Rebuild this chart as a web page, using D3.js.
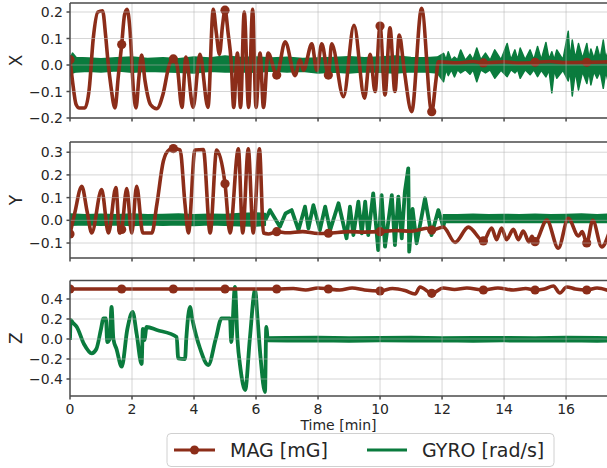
<!DOCTYPE html>
<html>
<head>
<meta charset="utf-8">
<script src="https://cdn.jsdelivr.net/npm/d3@7"></script>
<style>
  html, body { margin: 0; padding: 0; background: #fff; }
  svg { display: block; font-family: "DejaVu Sans", sans-serif; }
</style>
</head>
<body>
<svg id="chart" width="607" height="468"></svg>
<script>
(function(){
  'use strict';

  // tick values
  const timeTicks = [0, 2, 4, 6, 8, 10, 12, 14, 16];
  const ticksX = [-0.2, -0.1, 0.0, 0.1, 0.2];
  const ticksY = [-0.1, 0.0, 0.1, 0.2, 0.3];
  const ticksZ = [-0.4, -0.2, 0.0, 0.2, 0.4];

  // MAG markers sit on these sample times
  const markTimes = [0, 1.667, 3.333, 5.0, 6.667, 8.333, 10.0, 11.667, 13.333, 15.0, 16.667];

  // MAG [mG] per axis: [time (min), value]
  const magX = [
    [0.000,0.020],[0.08,-0.060],[0.20,-0.150],[0.30,-0.162],[0.48,-0.162],[0.62,-0.090],[0.75,0.100],
    [0.90,0.200],[1.05,0.205],[1.15,0.110],[1.22,0.020],[1.32,-0.080],[1.45,-0.162],[1.56,-0.040],
    [1.667,0.077],[1.76,0.190],[1.84,0.210],[1.93,0.140],[2.05,-0.100],[2.13,-0.162],[2.22,-0.050],
    [2.31,0.038],[2.42,-0.060],[2.60,-0.150],[2.80,-0.165],[3.00,-0.110],[3.20,0.000],[3.333,0.023],
    [3.45,0.000],[3.61,-0.160],[3.74,0.030],[3.97,-0.160],[4.19,0.040],[4.45,-0.160],[4.62,0.210],
    [4.72,0.120],[4.82,0.040],[4.92,0.150],[5.000,0.207],[5.10,0.120],[5.20,0.010],[5.28,-0.160],
    [5.40,0.045],[5.50,-0.160],[5.62,0.200],[5.76,-0.160],[5.89,0.210],[6.00,-0.160],[6.13,0.045],
    [6.24,-0.160],[6.39,0.045],[6.667,-0.038],[6.94,0.088],[7.26,-0.040],[7.42,0.020],[7.53,-0.020],
    [7.80,0.080],[7.96,-0.020],[8.12,0.080],[8.333,-0.038],[8.44,0.080],[8.82,-0.120],[9.16,0.150],
    [9.50,-0.125],[9.68,0.040],[9.84,-0.100],[10.000,0.147],[10.16,-0.113],[10.32,0.140],[10.48,-0.100],
    [10.62,0.113],[10.78,-0.020],[11.02,-0.176],[11.34,0.214],[11.667,-0.176],[11.80,-0.060],[11.88,0.012],
    [12.50,0.008],[13.00,0.013],[13.333,0.008],[14.00,0.012],[14.50,0.007],[15.000,0.010],[15.50,0.013],
    [16.00,0.009],[16.667,0.010],[17.40,0.012]
  ];
  const magY = [
    [0.000,-0.060],[0.15,0.030],[0.38,0.150],[0.55,0.040],[0.70,-0.056],[1.02,0.135],[1.24,-0.056],
    [1.48,0.144],[1.60,-0.056],[1.667,-0.040],[1.83,0.140],[1.99,-0.056],[2.15,0.150],[2.35,-0.056],
    [2.64,-0.056],[2.80,0.069],[3.01,0.260],[3.20,0.311],[3.333,0.316],[3.55,0.310],[3.71,0.070],
    [3.82,-0.056],[4.03,0.310],[4.30,0.312],[4.52,-0.056],[4.73,0.310],[5.000,0.161],[5.16,-0.056],
    [5.43,0.315],[5.57,-0.056],[5.75,0.315],[5.91,-0.056],[6.11,0.315],[6.24,-0.056],[6.40,-0.060],
    [6.667,-0.050],[7.00,-0.055],[7.50,-0.050],[8.00,-0.058],[8.333,-0.057],[9.00,-0.050],[9.50,-0.052],
    [10.000,-0.050],[10.50,-0.045],[11.00,-0.048],[11.30,-0.040],[11.50,-0.035],[11.667,-0.043],
    [12.04,-0.030],[12.42,-0.097],[12.85,-0.030],[13.333,-0.091],[13.60,-0.034],[13.76,-0.085],
    [13.92,-0.034],[14.08,-0.085],[14.30,-0.040],[14.46,-0.085],[14.62,-0.047],[14.80,-0.095],
    [14.90,-0.070],[15.000,-0.094],[15.38,0.001],[15.75,-0.123],[16.07,0.009],[16.40,-0.069],
    [16.52,-0.050],[16.667,-0.100],[16.86,0.000],[17.15,-0.117],[17.40,-0.050]
  ];
  const magZ = [
    [0.000,0.500],[1.667,0.500],[3.333,0.500],[5.000,0.500],[6.667,0.500],[7.20,0.505],[7.60,0.490],
    [8.00,0.510],[8.333,0.500],[8.70,0.490],[9.10,0.510],[9.50,0.490],[10.000,0.480],[10.40,0.505],
    [10.80,0.485],[11.13,0.450],[11.29,0.520],[11.667,0.457],[12.04,0.510],[12.40,0.495],[12.80,0.510],
    [13.333,0.490],[13.80,0.510],[14.30,0.490],[14.70,0.505],[15.000,0.490],[15.30,0.500],[15.59,0.530],
    [15.80,0.460],[16.02,0.520],[16.30,0.500],[16.667,0.490],[17.00,0.510],[17.40,0.480]
  ];

  // GYRO [rad/s] noise bands: [time, low, high]
  const gyroXBand = [
    [0.00,-0.020,0.020],[0.08,-0.030,0.045],[0.20,-0.026,0.028],[0.60,-0.024,0.026],[1.00,-0.026,0.024],
    [1.50,-0.022,0.027],[2.00,-0.027,0.030],[2.50,-0.024,0.025],[3.00,-0.025,0.027],[3.50,-0.027,0.024],
    [4.00,-0.030,0.030],[4.50,-0.024,0.026],[5.00,-0.026,0.034],[5.50,-0.025,0.028],[6.00,-0.027,0.030],
    [6.50,-0.023,0.026],[7.00,-0.026,0.029],[7.50,-0.024,0.025],[8.00,-0.030,0.026],[8.50,-0.026,0.028],
    [9.00,-0.030,0.031],[9.50,-0.025,0.027],[10.00,-0.027,0.030],[10.50,-0.030,0.034],[11.00,-0.025,0.028],
    [11.50,-0.026,0.027],[11.85,-0.030,0.030],
    [12.05,-0.063,0.044],[12.13,-0.018,0.020],[12.20,-0.040,0.050],[12.30,-0.018,0.018],[12.40,-0.045,0.030],
    [12.50,-0.018,0.020],[12.60,-0.030,0.057],[12.75,-0.018,0.018],[12.90,-0.035,0.040],[13.00,-0.018,0.020],
    [13.12,-0.063,0.064],[13.25,-0.018,0.020],[13.40,-0.030,0.045],[13.55,-0.018,0.018],[13.70,-0.050,0.057],
    [13.90,-0.020,0.020],[14.10,-0.044,0.081],[14.22,-0.018,0.020],[14.35,-0.030,0.057],[14.44,-0.018,0.020],
    [14.52,-0.050,0.064],[14.68,-0.018,0.020],[14.84,-0.037,0.057],[14.96,-0.018,0.020],[15.08,-0.044,0.070],
    [15.20,-0.020,0.020],[15.35,-0.045,0.085],[15.45,-0.020,0.022],[15.54,-0.105,0.050],[15.62,-0.020,0.020],
    [15.70,-0.050,0.057],[15.90,-0.020,0.020],[16.07,-0.060,0.127],[16.13,-0.025,0.025],[16.20,-0.117,0.094],
    [16.30,-0.025,0.025],[16.40,-0.094,0.081],[16.53,-0.025,0.025],[16.67,-0.070,0.081],[16.74,-0.025,0.025],
    [16.80,-0.075,0.060],[16.90,-0.025,0.025],[17.00,-0.050,0.070],[17.10,-0.025,0.025],[17.20,-0.088,0.094],
    [17.28,-0.025,0.025],[17.35,-0.060,0.050]
  ];
  const gyroYBandA = [
    [0.00,-0.022,0.028],[0.50,-0.020,0.025],[1.00,-0.022,0.027],[1.50,-0.020,0.024],[2.00,-0.023,0.028],
    [2.50,-0.020,0.025],[3.00,-0.022,0.026],[3.50,-0.020,0.028],[4.00,-0.023,0.025],[4.50,-0.020,0.027],
    [5.00,-0.022,0.026],[5.50,-0.024,0.030],[6.00,-0.025,0.032],[6.30,-0.022,0.030]
  ];
  const gyroYBandB = [
    [12.04,-0.010,0.025],[12.50,-0.008,0.024],[13.00,-0.010,0.027],[13.50,-0.008,0.024],[14.00,-0.010,0.026],
    [14.50,-0.009,0.024],[15.00,-0.010,0.027],[15.50,-0.008,0.025],[16.00,-0.010,0.026],[16.50,-0.009,0.028],
    [17.00,-0.010,0.025],[17.40,-0.009,0.027]
  ];
  const gyroZBand = [
    [6.37,-0.025,0.020],[7.00,-0.028,0.022],[8.00,-0.025,0.024],[9.00,-0.030,0.020],[10.00,-0.026,0.022],
    [11.00,-0.028,0.025],[12.00,-0.025,0.020],[13.00,-0.030,0.023],[14.00,-0.026,0.022],[15.00,-0.028,0.020],
    [16.00,-0.025,0.024],[17.00,-0.030,0.022],[17.40,-0.026,0.020]
  ];

  // GYRO swings drawn as a line: [time, value]
  const gyroYLine = [
    [6.30,0.000],[6.45,0.045],[6.77,-0.028],[6.95,0.030],[7.15,0.045],[7.37,-0.043],[7.58,0.060],
    [7.69,-0.035],[7.85,0.067],[8.06,-0.043],[8.23,0.060],[8.39,-0.043],[8.66,0.075],[8.92,-0.079],
    [9.03,0.060],[9.14,-0.065],[9.30,0.082],[9.41,-0.057],[9.52,0.082],[9.62,-0.065],[9.78,0.119],
    [9.94,-0.131],[10.05,0.111],[10.16,-0.116],[10.38,0.111],[10.48,-0.109],[10.59,0.104],[10.70,-0.079],
    [10.80,0.126],[10.91,0.229],[10.94,-0.138],[11.05,0.050],[11.18,-0.101],[11.45,0.097],[11.66,-0.065],
    [11.88,0.045],[12.04,-0.028],[12.10,0.008]
  ];
  const gyroZLine = [
    [0.00,-0.010],[0.02,0.190],[0.10,0.160],[0.22,0.120],[0.45,-0.050],[0.70,-0.143],[0.85,-0.100],
    [1.00,0.100],[1.08,0.207],[1.16,0.207],[1.20,-0.030],[1.28,0.000],[1.34,0.320],[1.40,0.000],
    [1.50,-0.100],[1.667,-0.277],[1.85,0.100],[2.02,0.270],[2.15,0.050],[2.31,-0.250],[2.35,0.100],
    [2.40,-0.010],[2.47,0.120],[2.80,0.090],[3.44,0.020],[3.49,-0.193],[3.71,-0.200],[3.75,0.000],
    [3.87,0.320],[3.95,0.190],[4.20,-0.100],[4.46,-0.260],[4.70,0.000],[4.89,0.207],[5.16,0.207],
    [5.20,-0.030],[5.32,0.520],[5.40,0.000],[5.50,-0.300],[5.65,-0.510],[5.80,0.000],[5.97,0.490],
    [6.05,0.200],[6.15,-0.200],[6.29,-0.530],[6.33,0.120],[6.37,0.000]
  ];

  const MAG_COLOR = '#8c2d19';
  const GYRO_COLOR = '#0a7b3d';
  const TEXT_COLOR = '#262626';
  const SPINE_COLOR = '#4a4a4a';

  const left = 70, right = 607;
  const x = d3.scaleLinear().domain([0, 17.32]).range([left, right]);

  const panels = [
    { name: 'X', top: 3,     bottom: 118, domain: [-0.2, 0.234],   ticks: ticksX,
      mag: magX, bands: [gyroXBand], lines: [] },
    { name: 'Y', top: 142,   bottom: 258, domain: [-0.166, 0.345], ticks: ticksY,
      mag: magY, bands: [gyroYBandA, gyroYBandB], lines: [gyroYLine] },
    { name: 'Z', top: 280.5, bottom: 396, domain: [-0.57, 0.585],  ticks: ticksZ,
      mag: magZ, bands: [gyroZBand], lines: [gyroZLine] }
  ];

  const svg = d3.select('#chart');
  const fmt = d3.format('.1f');

  panels.forEach(function(p, i) {
    const y = d3.scaleLinear().domain(p.domain).range([p.bottom, p.top]);
    const clipId = 'clip' + i;

    svg.append('clipPath').attr('id', clipId)
      .append('rect')
        .attr('x', left).attr('y', p.top)
        .attr('width', right - left).attr('height', p.bottom - p.top);

    const g = svg.append('g').attr('clip-path', 'url(#' + clipId + ')');

    // gyro noise bands
    const band = d3.area()
      .x(d => x(d[0]))
      .y0(d => y(d[1]))
      .y1(d => y(d[2]));
    p.bands.forEach(function(b) {
      g.append('path')
        .datum(b)
        .attr('fill', GYRO_COLOR)
        .attr('stroke', GYRO_COLOR)
        .attr('stroke-width', 1.5)
        .attr('stroke-linejoin', 'round')
        .attr('d', band);
    });

    // gyro swings
    const gline = d3.line()
      .x(d => x(d[0]))
      .y(d => y(d[1]))
      .curve(p.name === 'Z' ? d3.curveMonotoneX : d3.curveLinear);
    p.lines.forEach(function(l) {
      g.append('path')
        .datum(l)
        .attr('fill', 'none')
        .attr('stroke', GYRO_COLOR)
        .attr('stroke-width', 3.8)
        .attr('stroke-linejoin', 'round')
        .attr('d', gline);
    });

    // mag line
    const mline = d3.line()
      .x(d => x(d[0]))
      .y(d => y(d[1]))
      .curve(d3.curveMonotoneX);
    g.append('path')
      .datum(p.mag)
      .attr('fill', 'none')
      .attr('stroke', MAG_COLOR)
      .attr('stroke-width', 3.6)
      .attr('stroke-linejoin', 'round')
      .attr('d', mline);

    g.selectAll('circle.mark')
      .data(p.mag.filter(d => markTimes.includes(d[0])))
      .join('circle')
        .attr('class', 'mark')
        .attr('cx', d => x(d[0]))
        .attr('cy', d => y(d[1]))
        .attr('r', 4.6)
        .attr('fill', MAG_COLOR);

    // grid drawn over the data, semi transparent
    const grid = svg.append('g')
      .attr('stroke', '#b4b4b4')
      .attr('stroke-opacity', 0.55)
      .attr('stroke-width', 1);
    grid.selectAll('line.h')
      .data(p.ticks)
      .join('line')
        .attr('x1', left).attr('x2', right)
        .attr('y1', d => y(d)).attr('y2', d => y(d));
    grid.selectAll('line.v')
      .data(timeTicks.slice(1))
      .join('line')
        .attr('x1', d => x(d)).attr('x2', d => x(d))
        .attr('y1', p.top).attr('y2', p.bottom);

    // spines
    const sp = svg.append('g').attr('stroke', SPINE_COLOR).attr('stroke-width', 1.5);
    sp.append('line').attr('x1', left).attr('x2', left).attr('y1', p.top).attr('y2', p.bottom);
    sp.append('line').attr('x1', left).attr('x2', right).attr('y1', p.top).attr('y2', p.top);
    sp.append('line').attr('x1', left).attr('x2', right).attr('y1', p.bottom).attr('y2', p.bottom);

    // ticks
    sp.selectAll('line.yt')
      .data(p.ticks)
      .join('line')
        .attr('x1', left - 3.5).attr('x2', left)
        .attr('y1', d => y(d)).attr('y2', d => y(d));
    sp.selectAll('line.xt')
      .data(timeTicks)
      .join('line')
        .attr('x1', d => x(d)).attr('x2', d => x(d))
        .attr('y1', p.bottom).attr('y2', p.bottom + 3.5);

    svg.append('g')
      .selectAll('text')
      .data(p.ticks)
      .join('text')
        .attr('x', left - 7)
        .attr('y', d => y(d))
        .attr('dy', '0.36em')
        .attr('text-anchor', 'end')
        .attr('font-size', 14)
        .attr('fill', TEXT_COLOR)
        .text(d => fmt(d));

    svg.append('text')
      .attr('transform', 'translate(22,' + ((p.top + p.bottom) / 2) + ') rotate(-90)')
      .attr('text-anchor', 'middle')
      .attr('font-size', 17)
      .attr('fill', TEXT_COLOR)
      .text(p.name);

    if (i === panels.length - 1) {
      svg.append('g')
        .selectAll('text')
        .data(timeTicks)
        .join('text')
          .attr('x', d => x(d))
          .attr('y', 414)
          .attr('text-anchor', 'middle')
          .attr('font-size', 14)
          .attr('fill', TEXT_COLOR)
          .text(d => d);

      svg.append('text')
        .attr('x', (left + right) / 2)
        .attr('y', 429.5)
        .attr('text-anchor', 'middle')
        .attr('font-size', 14)
        .attr('fill', TEXT_COLOR)
        .text('Time [min]');
    }
  });

  // legend
  const lg = svg.append('g');
  lg.append('rect')
    .attr('x', 167).attr('y', 433.5)
    .attr('width', 387).attr('height', 33)
    .attr('rx', 4)
    .attr('fill', '#fff')
    .attr('stroke', '#d0d0d0')
    .attr('stroke-width', 1);
  lg.append('line')
    .attr('x1', 174).attr('x2', 215).attr('y1', 450).attr('y2', 450)
    .attr('stroke', MAG_COLOR).attr('stroke-width', 3);
  lg.append('circle')
    .attr('cx', 194.5).attr('cy', 450).attr('r', 4.5)
    .attr('fill', MAG_COLOR);
  lg.append('text')
    .attr('x', 230).attr('y', 457)
    .attr('font-size', 19).attr('fill', TEXT_COLOR)
    .text('MAG [mG]');
  lg.append('line')
    .attr('x1', 367).attr('x2', 407).attr('y1', 450).attr('y2', 450)
    .attr('stroke', GYRO_COLOR).attr('stroke-width', 3);
  lg.append('text')
    .attr('x', 422).attr('y', 457)
    .attr('font-size', 19).attr('fill', TEXT_COLOR)
    .text('GYRO [rad/s]');
}());
</script>
</body>
</html>
